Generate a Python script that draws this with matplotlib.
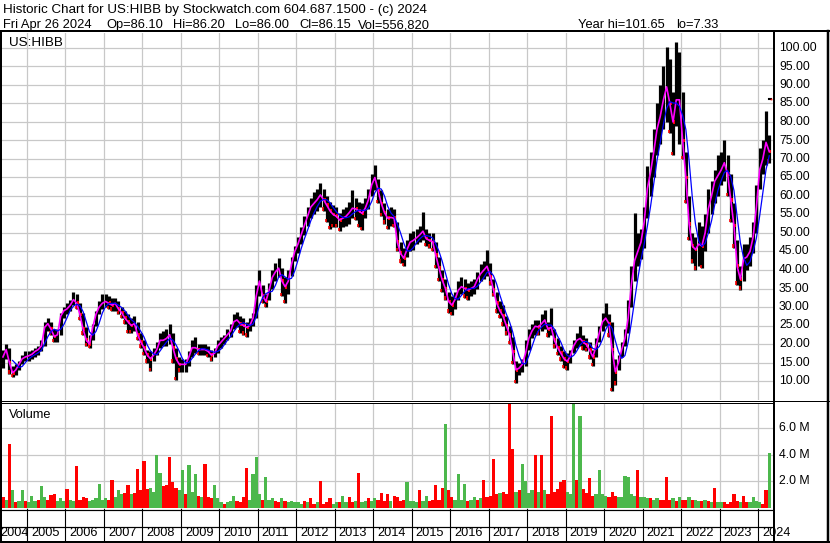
import numpy as np
import pandas as pd
import matplotlib
matplotlib.use('Agg')
import matplotlib.pyplot as plt
from matplotlib.lines import Line2D

plt.rcParams['font.family'] = ['Liberation Sans', 'DejaVu Sans']

# monthly bars, May 2004 .. Apr 2024
months = pd.period_range('2004-05', '2024-04', freq='M')

close = [
    16.5, 18.5, 15, 12.2, 13, 14.5, 16, 16.5,                              # 2004
    16.8, 17.2, 18, 18.5, 19.5, 24.5, 25.5, 24, 22, 22.5, 27.5, 29,         # 2005
    29.5, 30.5, 32, 31, 28, 24, 21, 20, 24.5, 28, 30, 31,                   # 2006
    31.5, 31, 30.5, 31, 29.5, 28.5, 27, 26, 25, 25.5, 22.5, 20.5,           # 2007
    19, 17, 16, 17, 18.5, 21, 21, 21.5, 22.5, 19, 16, 14.5,                 # 2008
    14.5, 14.5, 16.5, 19, 19, 18.5, 18.5, 18.5, 18, 17, 17.5, 19.5,         # 2009
    20.5, 21.5, 22.5, 23.5, 26, 26.5, 25.5, 25, 24.5, 25, 27, 33,           # 2010
    37, 33, 31.5, 34.5, 38, 39.5, 40.5, 37, 35.5, 37, 41.5, 45,             # 2011
    47, 49.5, 52, 54.5, 57, 58, 59, 60.3, 59, 57.5, 56, 55,                 # 2012
    54.5, 53.5, 54, 54.5, 55.5, 56.7, 56.5, 56, 55.3, 56.7, 59, 63,         # 2013
    65, 61.5, 58, 55.5, 54, 54.2, 54, 47.5, 44.5, 43.2, 45.5, 47.5,         # 2014
    48, 48.7, 49.5, 50.5, 48.5, 48, 47.7, 44, 40.5, 37.3, 35, 31.5,         # 2015
    30.5, 32, 34.5, 35.5, 35, 34.6, 35, 35.5, 37.5, 39, 40, 41,             # 2016
    38.2, 34.6, 31, 29, 27.5, 25, 22.5, 18, 13, 13.5, 14.5, 17.5,           # 2017
    21.5, 23.5, 24.8, 24.6, 25.5, 26.5, 24, 24.5, 21, 19, 17.5, 16,         # 2018
    15.3, 16.8, 19.5, 21, 21.5, 20.5, 19.8, 18.3, 16.5, 19.5, 23, 26,       # 2019
    27, 25.5, 18.5, 12.5, 15, 18.5, 21.5, 27, 36, 42.5, 45, 47.5,           # 2020
    53, 62, 66.5, 72, 78, 81.5, 86, 89.5, 85, 80, 86, 86,                   # 2021
    75, 65, 52.5, 46.5, 45.5, 47, 46.5, 50, 56.5, 60, 64, 65.5,             # 2022
    67, 69, 66, 59, 52, 41, 37.5, 43, 43.5, 45, 49, 57,                     # 2023
    67, 70, 74.5, 72,                                                       # 2024
]
high = [
    18.5, 20, 19, 14, 14.5, 15.5, 17, 18,
    18, 18.5, 19, 19.5, 21, 26, 27, 26, 24, 24, 28.5, 30,
    31, 32, 34, 33.5, 31, 28.5, 24.5, 22.5, 25.5, 29, 31.5, 33.5,
    33.5, 33, 32.5, 32.5, 31.5, 30, 29, 28, 27, 27.5, 26, 23,
    21, 18.5, 18, 19, 20.5, 23, 23.5, 24, 25.5, 23, 19, 16.5,
    16, 16, 18, 21, 22, 20, 20, 20, 19.5, 18.5, 19, 21,
    22, 22.5, 24, 25.5, 28, 28.7, 27.5, 27, 26, 27, 28.5, 36,
    40, 36, 33.5, 36.5, 40, 42, 43.2, 40.5, 38, 40, 43.5, 46.5,
    49, 51.5, 54.5, 57, 59.5, 61, 62, 63.4, 62, 60, 58.5, 57.5,
    57, 55.5, 56.5, 57, 58.5, 61.6, 59.5, 58.5, 58, 59.5, 62, 66,
    68.4, 64.5, 61.5, 58, 56.5, 57, 56.5, 53, 47.5, 46, 48, 50,
    50.5, 51, 52, 55.8, 51, 50, 50, 47.5, 43.5, 40, 37.5, 34,
    33, 34, 37, 38.2, 37.5, 36.5, 37, 37.5, 39.5, 41.5, 42.5, 45.4,
    42, 37.5, 34, 31.5, 30.5, 27.5, 25, 22, 15.5, 15, 16, 21,
    24, 25.5, 26.5, 26.5, 28, 29.3, 26, 29.8, 24, 21.5, 19.5, 18,
    17.5, 18.5, 21, 23, 24.8, 22.5, 21.5, 20.5, 18.5, 21.5, 25, 28.5,
    31, 28, 26, 16, 17, 20.5, 24, 32, 41, 55.4, 50, 51,
    57, 68, 72, 78, 85, 90, 95, 100.4, 97, 88, 101.65, 99,
    88, 72, 60, 50, 49, 53, 52, 55, 62, 64, 67, 71,
    72, 75.2, 71, 66, 58, 48, 41, 47, 47, 49, 53, 63,
    73, 75, 82.9, 76.5,
]
low = [
    13.5, 16, 12, 11, 11.5, 13, 14.5, 15.5,
    15.5, 16, 16.5, 17, 18, 19.5, 23.5, 22.5, 20.5, 20.5, 22.5, 27,
    28, 29, 30.5, 29.5, 26.5, 22.5, 19.5, 19, 21, 25, 28, 29.5,
    30, 29.5, 29, 29, 28, 27, 25.5, 23, 23, 23.5, 21, 19,
    17, 15, 12.6, 15.5, 17, 19, 19.5, 19.5, 20, 15, 10.3, 12.5,
    12.5, 12.5, 14, 16.5, 17.5, 17, 17, 17, 16.5, 15.5, 16.5, 17.5,
    19, 20, 21, 22, 24, 24.5, 23, 22.5, 22, 23.5, 25, 27,
    33, 31, 30, 32, 35, 37, 38, 33, 31.1, 33.5, 38.5, 42.5,
    44.5, 47, 49.5, 52, 54, 55, 56, 57, 56, 53, 51, 51.5,
    51.5, 50.5, 51.5, 52, 52.5, 54, 53.5, 51.5, 50.8, 54, 56.5, 60,
    61.5, 58, 54.5, 52.5, 51, 52, 51.5, 45, 42, 41, 43.5, 45,
    45.5, 47, 47.5, 48, 46.5, 46, 45, 40.5, 37, 34, 32, 28.5,
    27.8, 29.5, 32, 33.5, 32.5, 32, 33, 33.5, 35, 37, 37.5, 38.5,
    36, 33, 28.5, 27, 25, 22.5, 20, 14.5, 9.4, 11.5, 12.5, 14,
    18.5, 21.5, 22.5, 22.5, 23.5, 24, 22, 22.5, 19, 17, 15.5, 13.5,
    13.1, 15, 17.5, 19, 19.5, 18.5, 18, 16, 14, 16.5, 20.5, 23.5,
    25, 22, 7.33, 9, 13, 16.5, 19.5, 23, 30, 37, 41, 43,
    46, 54, 60, 65, 71, 74, 78, 80, 77, 71, 79, 74,
    70, 58, 48, 42, 40.1, 41, 40.5, 45, 50, 55, 58, 60,
    63, 64, 60, 53, 46, 36, 34.7, 37, 40, 41, 44.5, 50,
    62, 66, 68.5, 69,
]
# volume in millions, with bar colour (g = up, r = down)
volume = [
    0.8, 0.6, 4.8, 1.3, 0.4, 0.5, 1.3, 0.5,
    0.4, 0.9, 0.5, 0.6, 1.6, 0.8, 0.6, 0.95, 1.0, 0.5, 0.7, 0.5,
    1.4, 0.6, 0.5, 3.1, 0.6, 0.8, 0.7, 0.5, 0.6, 0.7, 1.8, 0.6,
    0.7, 0.6, 2.1, 0.8, 1.3, 1.0, 1.1, 1.7, 1.0, 1.1, 2.9, 1.3,
    3.5, 1.4, 1.5, 1.2, 4.0, 2.6, 1.6, 1.7, 3.8, 1.9, 1.5, 1.3,
    2.8, 1.0, 3.2, 1.2, 2.5, 0.9, 0.8, 3.3, 0.8, 0.7, 1.7, 0.7,
    0.4, 0.3, 0.4, 0.5, 0.9, 0.5, 0.4, 0.8, 3.0, 0.6, 2.5, 3.8,
    1.0, 0.6, 2.3, 0.6, 0.7, 0.5, 0.4, 0.7, 0.5, 0.4, 0.5, 0.4,
    0.4, 0.3, 0.5, 0.4, 0.7, 0.3, 0.4, 2.0, 0.3, 0.4, 0.7, 0.3,
    0.4, 0.4, 0.9, 0.4, 0.8, 0.4, 0.5, 2.6, 0.4, 0.5, 0.7, 0.5,
    0.7, 0.6, 1.1, 0.5, 1.0, 0.5, 0.9, 0.8, 0.5, 0.6, 1.9, 0.5,
    0.5, 0.4, 1.3, 0.5, 0.9, 0.5, 0.6, 1.7, 0.6, 1.5, 6.3, 1.3,
    0.8, 0.6, 2.5, 0.6, 1.8, 0.5, 0.6, 0.8, 0.6, 0.7, 2.1, 0.8,
    0.9, 3.7, 1.0, 1.1, 1.2, 1.0, 7.8, 4.4, 1.2, 1.3, 3.3, 2.0,
    1.1, 1.3, 4.0, 1.2, 4.0, 1.3, 1.0, 6.9, 1.2, 1.4, 1.9, 2.1,
    1.2, 1.0, 7.9, 2.1, 6.9, 1.4, 1.1, 2.2, 0.9, 1.0, 2.8, 1.0,
    0.9, 0.8, 1.2, 0.9, 0.8, 0.8, 2.4, 2.3, 1.0, 0.9, 2.8, 0.8,
    0.8, 0.7, 0.7, 0.6, 0.7, 0.6, 0.6, 2.3, 0.6, 0.7, 0.5, 0.8,
    0.6, 0.6, 0.8, 0.6, 0.6, 0.5, 0.5, 0.6, 0.5, 0.4, 1.5, 0.4,
    0.4, 0.4, 0.3, 0.4, 1.0, 0.5, 0.4, 0.9, 0.4, 0.4, 0.8, 0.5,
    0.4, 0.3, 1.3, 4.1,
]
vol_dir = ('rgrgrggr'
           'gggrggrrrggg' 'rggrrrrggggg' 'grrgggrrgrrr' 'rrggggrrrrrg'
           'grgggrgrrrgg' 'grgggrrrrggg' 'grgggrrgrggg' 'ggrgrrgrrrrg'
           'grggrrgrggrg' 'grrrrgrrrrgg' 'ggrggrrrrrgr' 'rggggrggrgrr'
           'rrrgrrrrgrgg' 'ggrgrgrrrrrr' 'gggrgrrrrggg' 'grrrggggggrg'
           'ggrggrrrrgrg' 'rrgrggrgrgrg' 'grrrrrgrrggg' 'grrg')

# last session from the header
last_day = pd.Timestamp('2024-04-26')
last_ohlc = [86.10, 86.20, 86.00, 86.15]

header1 = 'Historic Chart for US:HIBB by Stockwatch.com 604.687.1500 - (c) 2024'
header2 = ['Fri Apr 26 2024', 'Op=86.10', 'Hi=86.20', 'Lo=86.00', 'Cl=86.15',
           'Vol=556,820', 'Year hi=101.65', 'lo=7.33']
header2_x = [3, 106, 173, 235, 299, 358, 578, 676]

years = list(range(2004, 2025))
price_ticks = list(range(10, 101, 5))
vol_ticks = [2, 4, 6]

# ---- layout in pixels
W, H = 830, 543
fig = plt.figure(figsize=(W / 100, H / 100), dpi=100)


def box(x0, y0, x1, y1):
    return [x0 / W, 1 - y1 / H, (x1 - x0) / W, (y1 - y0) / H]


def line(x0, y0, x1, y1, lw):
    fig.add_artist(Line2D([x0 / W, x1 / W], [1 - y0 / H, 1 - y1 / H],
                          transform=fig.transFigure, color='black', lw=lw * 0.72))


px_year = (758 - 27) / 19
x_left = 2005 + (2 - 27) / px_year
x_right = 2005 + (773 - 27) / px_year

t = np.array([p.year + (p.month - 0.5) / 12 for p in months])
t_last = 2024 + (last_day.dayofyear - 0.5) / 366
close_s = pd.Series(close)
blue = close_s.rolling(4).mean()
down = np.r_[False, np.diff(close) < 0]
close_a = np.array(close)
low_a = np.array(low)

grid_c = '#c8c8c8'

ax_p = fig.add_axes(box(2, 33, 773, 400))
ax_v = fig.add_axes(box(2, 403, 773, 509))
ax_d = fig.add_axes(box(2, 509, 773, 541))
for ax in (ax_p, ax_v, ax_d):
    ax.set_xlim(x_left, x_right)
    for s in ax.spines.values():
        s.set_visible(False)
    ax.set_xticks([])
    ax.set_yticks([])

# price panel
ax_p.set_ylim(10 - 19 / 3.7, 100 + 15 / 3.7)
for y in price_ticks:
    ax_p.axhline(y, color=grid_c, lw=0.9, zorder=0)
for yr in years[1:]:
    ax_p.axvline(yr, color=grid_c, lw=0.9, zorder=0)
ax_p.vlines(t, low, high, color='black', lw=2.3, zorder=2)
ax_p.vlines(t[down] + 0.025, close_a[down] - 0.5, close_a[down] + 0.5,
            color='red', lw=1.4, zorder=3)
ax_p.vlines(t[down] - 0.02, low_a[down], low_a[down] + 0.9,
            color='red', lw=1.2, zorder=3)
ax_p.plot(t, close, color='#ff00ff', lw=1.2, zorder=4)
ax_p.plot(t, blue, color='#0000ff', lw=0.9, zorder=5)
ax_p.plot([t_last - 0.035, t_last + 0.01], [last_ohlc[3]] * 2, color='black', lw=1.5, zorder=4)
ax_p.plot([t_last + 0.03], [last_ohlc[3]], 's', color='red', ms=1.2, mew=0, zorder=5)

# volume panel
ax_v.set_ylim(-0.11, 7.89)
for y in vol_ticks:
    ax_v.axhline(y, color=grid_c, lw=0.9, zorder=0)
for yr in years[1:]:
    ax_v.axvline(yr, color=grid_c, lw=0.9, zorder=0)
vcol = ['#ff0000' if c == 'r' else '#4cb84c' for c in vol_dir]
ax_v.bar(t, volume, width=1 / 12, color=vcol, linewidth=0, zorder=2)

# year band
ax_d.set_ylim(0, 1)
for yr in years[1:]:
    ax_d.axvline(yr, color='black', lw=0.8)
for yr in years:
    xl = yr + 4 / px_year if yr > 2004 else x_left - 1.5 / px_year
    ax_d.text(xl, 0.24, str(yr), fontsize=9.2, ha='left', va='center', clip_on=False)

# frame lines
line(0, 31, 830, 31, 2)
line(1, 31, 1, 543, 2)
line(773.5, 31, 773.5, 543, 2)
line(828, 31, 828, 543, 2.5)
line(0, 400.5, 773, 400.5, 1)
line(0, 402.5, 773, 402.5, 1)
line(773, 401, 830, 401, 1)
line(0, 509.5, 773, 509.5, 1.2)
line(0, 526.5, 773, 526.5, 1.2)
line(0, 541.5, 830, 541.5, 2)

# texts
fig.text(3 / W, 1 - 13.5 / H, header1, fontsize=9.6, va='baseline')
for s, xp in zip(header2, header2_x):
    fig.text(xp / W, 1 - 28 / H, s, fontsize=9.3, va='baseline')
fig.text(9 / W, 1 - 46 / H, 'US:HIBB', fontsize=9.7, va='baseline')
fig.text(9 / W, 1 - 418 / H, 'Volume', fontsize=9.2, va='baseline')

for y in price_ticks:
    yp = 48 + (100 - y) * 3.7
    fig.text(779 / W, 1 - yp / H, f'{y:.2f}', fontsize=8.8, va='center')
for v in vol_ticks:
    yp = 507.5 - v * 13.25
    fig.text(779 / W, 1 - yp / H, f'{v:.1f} M', fontsize=8.8, va='center')

fig.savefig('out.png', dpi=100, facecolor='white')
